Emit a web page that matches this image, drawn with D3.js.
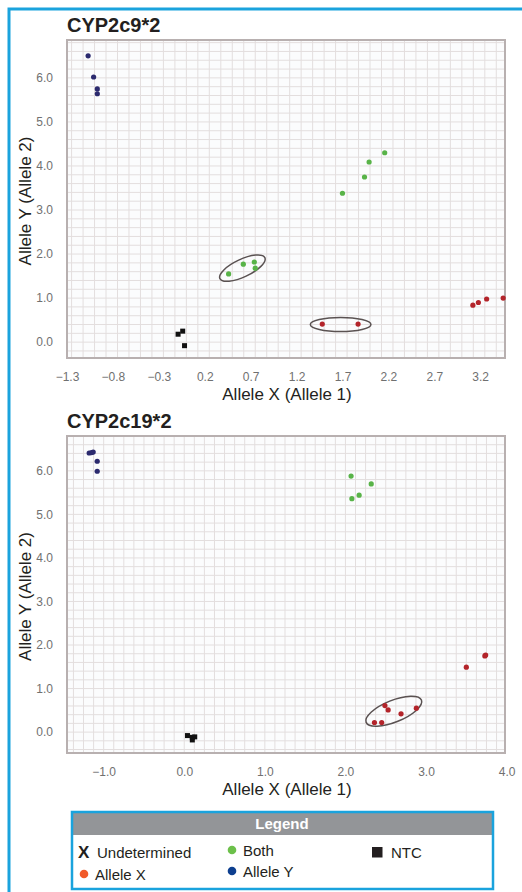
<!DOCTYPE html>
<html>
<head>
<meta charset="utf-8">
<script src="https://cdn.jsdelivr.net/npm/d3@7"></script>
<style>
  body { margin: 0; background: #fff; }
  svg { font-family: "Liberation Sans", Arial, sans-serif; display: block; }
  .tick text { fill: #707070; font-size: 12px; }
</style>
</head>
<body>
<svg width="522" height="892"></svg>
<script>
// CYP2c9*2 data (x = Allele X, y = Allele Y)
var c9AlleleY = [[-1.07, 6.5], [-1.01, 6.02], [-0.97, 5.75], [-0.97, 5.64]];
var c9Both = [[2.16, 4.3], [1.99, 4.09], [1.94, 3.75], [1.70, 3.38],
              [0.46, 1.55], [0.62, 1.77], [0.74, 1.82], [0.75, 1.68]];
var c9AlleleX = [[1.48, 0.41], [1.87, 0.41], [3.12, 0.84], [3.18, 0.9], [3.27, 0.98], [3.45, 1.0]];
var c9NTC = [[-0.09, 0.18], [-0.04, 0.25], [-0.02, -0.08]];
var c9XTicks = [-1.3, -0.8, -0.3, 0.2, 0.7, 1.2, 1.7, 2.2, 2.7, 3.2];
var c9Ellipses = [
  {cx: 0.61, cy: 1.68, rx: 0.27, ry: 0.2, angle: -25},
  {cx: 1.68, cy: 0.40, rx: 0.33, ry: 0.16, angle: 0}
];

// CYP2c19*2 data
var c19AlleleY = [[-1.18, 6.41], [-1.15, 6.42], [-1.13, 6.43], [-1.08, 6.22], [-1.08, 5.99]];
var c19Both = [[2.07, 5.88], [2.32, 5.7], [2.17, 5.44], [2.08, 5.36]];
var c19AlleleX = [[2.36, 0.22], [2.45, 0.22], [2.49, 0.61], [2.53, 0.51], [2.69, 0.42],
                  [2.88, 0.55], [3.50, 1.49], [3.73, 1.75], [3.74, 1.77]];
var c19NTC = [[0.04, -0.08], [0.10, -0.12], [0.13, -0.11], [0.10, -0.18]];
var c19XTicks = [-1.0, 0.0, 1.0, 2.0, 3.0, 4.0];
var c19Ellipses = [
  {cx: 2.60, cy: 0.48, rx: 0.37, ry: 0.25, angle: -22}
];

var yTicks = [0, 1, 2, 3, 4, 5, 6];

var legendItems = [
  {label: "Undetermined", type: "x", col: 0, row: 0},
  {label: "Allele X", type: "dot", color: "#f15a29", col: 0, row: 1},
  {label: "Both", type: "dot", color: "#6cc04a", col: 1, row: 0},
  {label: "Allele Y", type: "dot", color: "#0d3f8f", col: 1, row: 1},
  {label: "NTC", type: "square", color: "#231f20", col: 2, row: 0}
];

var svg = d3.select("svg");

// blue frame
svg.append("path")
  .attr("d", "M9,892 V9 H522")
  .attr("fill", "none")
  .attr("stroke", "#1aa3dd")
  .attr("stroke-width", 3);

function drawPanel(opt) {
  var x = d3.scaleLinear().domain(opt.xDomain).range([opt.left, opt.right]);
  var y = d3.scaleLinear().domain(opt.yDomain).range([opt.bottom, opt.top]);
  var g = svg.append("g");

  g.append("rect")
    .attr("x", opt.left).attr("y", opt.top)
    .attr("width", opt.right - opt.left).attr("height", opt.bottom - opt.top)
    .attr("fill", "#fbfcfd");

  // fine grid
  var gx = d3.range(Math.ceil(opt.xDomain[0] / opt.xStep) * opt.xStep, opt.xDomain[1], opt.xStep);
  var gy = d3.range(Math.ceil(opt.yDomain[0] / 0.2) * 0.2, opt.yDomain[1], 0.2);
  g.selectAll(".vg").data(gx).enter().append("line")
    .attr("x1", d => x(d)).attr("x2", d => x(d))
    .attr("y1", opt.top).attr("y2", opt.bottom)
    .attr("stroke", "#e3dede").attr("stroke-width", 1);
  g.selectAll(".hg").data(gy).enter().append("line")
    .attr("y1", d => y(d)).attr("y2", d => y(d))
    .attr("x1", opt.left).attr("x2", opt.right)
    .attr("stroke", "#e3dede").attr("stroke-width", 1);

  g.append("rect")
    .attr("x", opt.left).attr("y", opt.top)
    .attr("width", opt.right - opt.left).attr("height", opt.bottom - opt.top)
    .attr("fill", "none").attr("stroke", "#b8b0b0").attr("stroke-width", 2);

  // axes
  var ax = g.append("g")
    .attr("transform", "translate(0," + (opt.bottom + 8) + ")")
    .call(d3.axisBottom(x).tickValues(opt.xTicks).tickFormat(d3.format(".1f")).tickSize(0).tickPadding(6));
  ax.select(".domain").remove();
  var ay = g.append("g")
    .attr("transform", "translate(" + (opt.left - 8) + ",0)")
    .call(d3.axisLeft(y).tickValues(yTicks).tickFormat(d3.format(".1f")).tickSize(0).tickPadding(6));
  ay.select(".domain").remove();

  g.append("text")
    .attr("x", opt.left).attr("y", opt.top - 8)
    .attr("font-size", 20).attr("font-weight", "bold").attr("fill", "#231f20")
    .text(opt.title);

  g.append("text")
    .attr("x", (opt.left + opt.right) / 2 + 1).attr("y", opt.bottom + 42)
    .attr("text-anchor", "middle").attr("font-size", 17).attr("fill", "#231f20")
    .text("Allele X (Allele 1)");

  g.append("text")
    .attr("transform", "translate(31," + ((opt.top + opt.bottom) / 2 + 2) + ") rotate(-90)")
    .attr("text-anchor", "middle").attr("font-size", 17).attr("fill", "#231f20")
    .text("Allele Y (Allele 2)");

  // cluster ellipses
  g.selectAll(".ell").data(opt.ellipses).enter().append("ellipse")
    .attr("transform", d => "translate(" + x(d.cx) + "," + y(d.cy) + ") rotate(" + d.angle + ")")
    .attr("rx", d => x(d.cx + d.rx) - x(d.cx))
    .attr("ry", d => y(d.cy) - y(d.cy + d.ry))
    .attr("fill", "none").attr("stroke", "#5a5252").attr("stroke-width", 1.5);

  function dots(data, color) {
    g.selectAll(null).data(data).enter().append("circle")
      .attr("cx", d => x(d[0])).attr("cy", d => y(d[1]))
      .attr("r", 2.6).attr("fill", color);
  }
  dots(opt.alleleY, "#2b2a6e");
  dots(opt.both, "#58b348");
  dots(opt.alleleX, "#b3242a");
  g.selectAll(null).data(opt.ntc).enter().append("rect")
    .attr("x", d => x(d[0]) - 2.5).attr("y", d => y(d[1]) - 2.5)
    .attr("width", 5).attr("height", 5).attr("fill", "#111");
}

drawPanel({
  title: "CYP2c9*2",
  left: 67, right: 505, top: 40, bottom: 358,
  xDomain: [-1.3, 3.47], yDomain: [-0.36, 6.86], xStep: 0.125,
  xTicks: c9XTicks,
  alleleY: c9AlleleY, both: c9Both, alleleX: c9AlleleX, ntc: c9NTC,
  ellipses: c9Ellipses
});

drawPanel({
  title: "CYP2c19*2",
  left: 67, right: 505, top: 436, bottom: 753,
  xDomain: [-1.455, 3.98], yDomain: [-0.48, 6.8], xStep: 0.125,
  xTicks: c19XTicks,
  alleleY: c19AlleleY, both: c19Both, alleleX: c19AlleleX, ntc: c19NTC,
  ellipses: c19Ellipses
});

// legend
var lg = svg.append("g");
lg.append("rect").attr("x", 72).attr("y", 812).attr("width", 421).attr("height", 23).attr("fill", "#939598");
lg.append("rect").attr("x", 72).attr("y", 812).attr("width", 421).attr("height", 77)
  .attr("fill", "none").attr("stroke", "#1aa3dd").attr("stroke-width", 2.5);
lg.append("text").attr("x", 282).attr("y", 829).attr("text-anchor", "middle")
  .attr("font-size", 15).attr("font-weight", "bold").attr("fill", "#fff").text("Legend");

var colX = [78, 226, 372];
var rowY = [[852, 874], [850, 871], [852, 871]];
var items = lg.selectAll(".li").data(legendItems).enter().append("g")
  .attr("transform", d => "translate(" + colX[d.col] + "," + rowY[d.col][d.row] + ")");
items.filter(d => d.type === "x").append("text")
  .attr("x", 0).attr("y", 6).attr("font-size", 17).attr("font-weight", "bold").attr("fill", "#231f20").text("X");
items.filter(d => d.type === "dot").append("circle")
  .attr("cx", 6).attr("cy", 0).attr("r", 4.3).attr("fill", d => d.color);
items.filter(d => d.type === "square").append("rect")
  .attr("x", 0).attr("y", -5).attr("width", 10.5).attr("height", 10.5).attr("fill", d => d.color);
items.append("text")
  .attr("x", d => d.type === "dot" ? 17 : 19).attr("y", 5.5)
  .attr("font-size", 15).attr("fill", "#231f20").text(d => d.label);
</script>
</body>
</html>
